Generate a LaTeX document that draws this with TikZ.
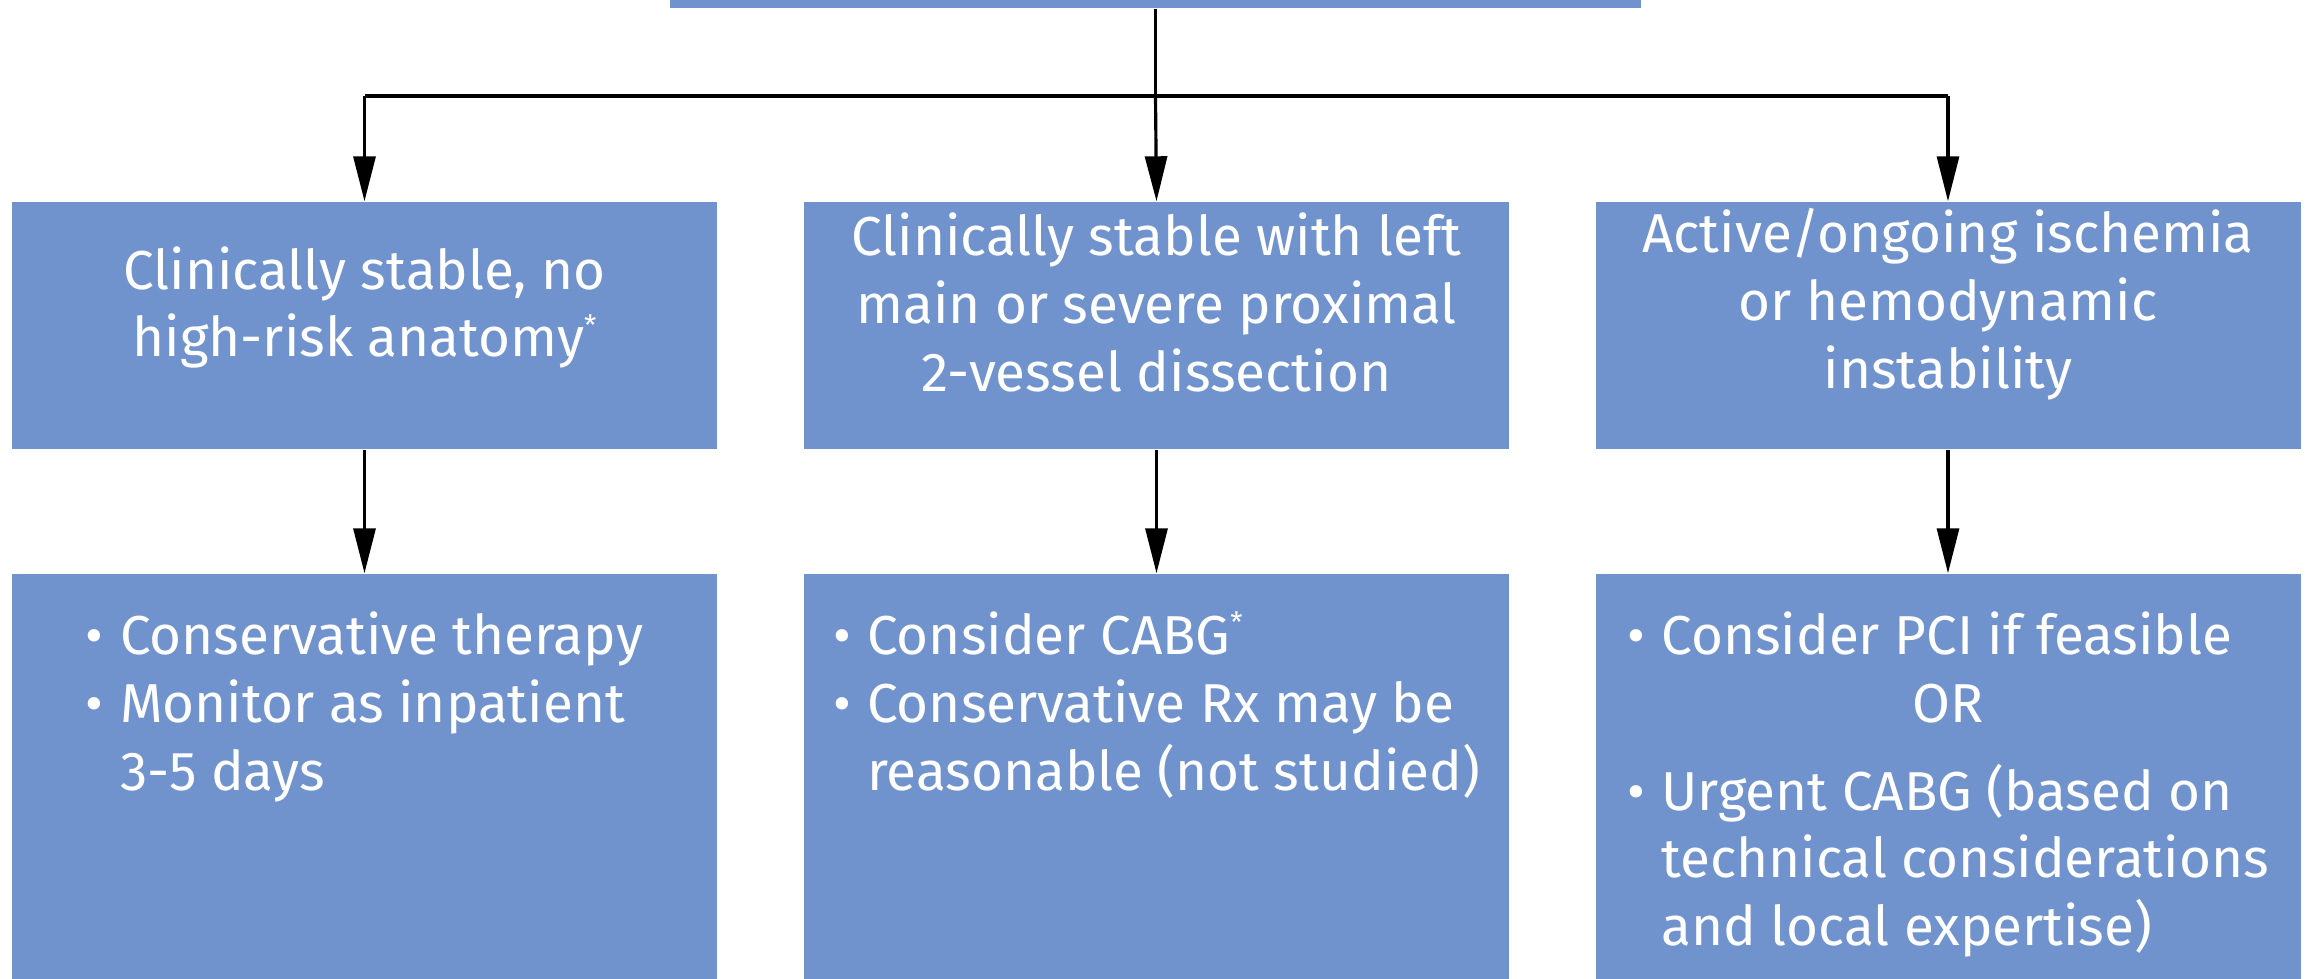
\documentclass[tikz,border=0pt]{standalone}
\usepackage{fontspec}
\setmainfont{Fira Sans}
\usetikzlibrary{arrows.meta}
\definecolor{boxblue}{RGB}{113,147,205}
\newcommand{\smallast}{\raisebox{0.4em}{\fontsize{8}{8}\selectfont *}}
\tikzset{
  panel/.style={fill=boxblue, draw=none, minimum width=7.05cm, inner sep=0pt},
  toprow/.style={panel, minimum height=2.47cm},
  lowrow/.style={panel, minimum height=4.34cm},
  boxtext/.style={text=white, inner sep=0pt, font=\fontsize{15.6}{19.3}\selectfont},
  link/.style={line width=0.9pt, -{Triangle[length=4.5mm,width=2.2mm]}},
}

\begin{document}
\begin{tikzpicture}
        \useasboundingbox (0,0) rectangle (23.08,9.78);
        % the box above, cut off by the page edge
        \node[panel, minimum width=9.71cm, minimum height=1cm] (root) at (11.555,10.2) {};
        % coordinates for the branching line
        \coordinate (split)      at (root.south |- 0,8.82);
        % first row of boxes
        \node[toprow] (stable)   at ( 3.645, 6.525) {};
        \node[toprow] (leftmain) at (11.565, 6.525) {};
        \node[toprow] (active)   at (19.48,  6.525) {};
        \coordinate (splitleft)  at (stable.north |- split);
        \coordinate (splitright) at (active.north |- split);
        % second row of boxes
        \node[lowrow] (therapy)  at ( 3.645, 1.87) {};
        \node[lowrow] (surgery)  at (11.565, 1.87) {};
        \node[lowrow] (urgent)   at (19.48,  1.87) {};
        % texts of the first row
        \node[boxtext, align=center] (stabletext)   at ([yshift=0.18cm]stable.center)
          {Clinically stable, no\\high-risk anatomy\smallast};
        \node[boxtext, align=center] (leftmaintext) at ([yshift=0.23cm]leftmain.center)
          {Clinically stable with left\\main or severe proximal\\2-vessel dissection};
        \node[boxtext, align=center] (activetext)   at ([yshift=0.21cm]active.center)
          {Active/ongoing ischemia\\or hemodynamic\\instability};
        % texts of the second row
        \node[boxtext, anchor=north] (therapytext) at ([yshift=-0.33cm]therapy.north)
          {\begin{tabular}{@{}l@{\hspace{.3em}}l@{}}
             \textbullet & Conservative therapy\\
             \textbullet & Monitor as inpatient\\
                         & 3-5 days
           \end{tabular}};
        \node[boxtext, anchor=north] (surgerytext) at ([yshift=-0.33cm]surgery.north)
          {\begin{tabular}{@{}l@{\hspace{.3em}}l@{}}
             \textbullet & Consider CABG\smallast\\
             \textbullet & Conservative Rx may be\\
                         & reasonable (not studied)
           \end{tabular}};
        \node[boxtext, anchor=north] (urgenttext)  at ([yshift=-0.33cm]urgent.north)
          {\begin{tabular}{@{}l@{\hspace{.3em}}l@{}}
             \textbullet & Consider PCI if feasible\\
             \multicolumn{2}{c}{OR}\\[0.2cm]
             \textbullet & Urgent CABG (based on\\
                         & technical considerations\\
                         & and local expertise)
           \end{tabular}};
        % drawing the branching line
        \draw[line width=0.9pt] (root.south) -- (split);
        \draw[line width=1.4pt] (splitleft)  -- (splitright);
        % drawing the arrows
        \draw[link] (splitleft)       -- (stable.north);
        \draw[link] (split)           -- (leftmain.north);
        \draw[link] (splitright)      -- (active.north);
        \draw[link] (stable.south)    -- (therapy.north);
        \draw[link] (leftmain.south)  -- (surgery.north);
        \draw[link] (active.south)    -- (urgent.north);
\end{tikzpicture}
\end{document}
